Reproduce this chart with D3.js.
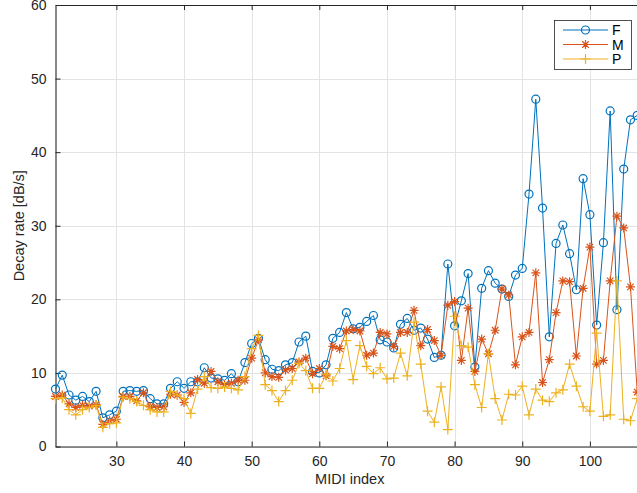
<!DOCTYPE html>
<html><head><meta charset="utf-8">
<script src="https://cdn.jsdelivr.net/npm/d3@7/dist/d3.min.js"></script>
<style>
html,body{margin:0;padding:0;background:#fff;}
svg{display:block;font-family:"Liberation Sans",Arial,Helvetica,sans-serif;}
</style></head>
<body>
<svg id="chart" width="637" height="493"></svg>
<script>
const midi = [21,22,23,24,25,26,27,28,29,30,31,32,33,34,35,36,37,38,39,40,41,42,43,44,45,46,47,48,49,50,51,52,53,54,55,56,57,58,59,60,61,62,63,64,65,66,67,68,69,70,71,72,73,74,75,76,77,78,79,80,81,82,83,84,85,86,87,88,89,90,91,92,93,94,95,96,97,98,99,100,101,102,103,104,105,106,107,108];
const seriesF = [7.8,9.7,7.0,6.3,6.8,6.1,7.5,3.9,4.3,4.8,
  7.5,7.6,7.5,7.6,6.5,5.8,5.8,7.9,8.8,7.9,
  8.8,8.8,10.7,9.3,9.2,9.0,9.9,8.8,11.4,14.0,
  14.7,11.8,10.5,10.3,11.1,11.4,14.2,15.0,10.2,10.0,
  11.1,14.7,15.5,18.2,16.0,16.2,17.0,17.8,14.5,14.2,
  13.4,16.6,17.4,15.8,16.1,14.6,12.1,12.4,24.8,16.4,
  19.8,23.5,10.8,21.5,23.9,22.2,21.4,20.4,23.3,24.2,
  34.3,47.2,32.4,14.9,27.6,30.1,26.2,21.3,36.4,31.5,
  16.5,27.7,45.6,18.6,37.7,44.4,45.0,46.0];
const seriesM = [6.8,7.0,5.8,5.3,5.6,5.5,5.7,3.0,3.5,3.7,
  6.8,6.8,6.2,7.3,5.4,5.3,5.4,7.1,7.0,6.0,
  7.3,9.1,8.6,10.2,8.8,8.4,8.6,9.0,9.0,12.0,
  14.5,10.0,9.5,9.4,10.4,10.6,11.5,12.0,9.9,10.6,
  9.6,13.6,13.3,15.7,15.9,15.7,12.4,12.7,15.5,15.3,
  13.6,15.5,15.5,18.5,13.7,15.9,14.4,12.4,19.2,19.7,
  11.7,18.8,10.2,14.6,12.6,15.8,21.4,20.6,11.1,14.9,
  15.5,23.6,8.7,11.8,18.2,22.5,22.4,12.3,21.5,27.1,
  11.2,11.7,22.5,31.3,29.7,21.7,7.4,9.0];
const seriesP = [6.5,6.6,5.0,4.3,5.0,5.3,5.6,2.6,3.1,3.2,
  6.7,6.5,6.1,5.6,5.0,4.7,4.7,7.5,7.0,6.5,
  4.5,7.8,9.5,8.0,7.9,8.1,7.9,7.7,9.5,13.3,
  15.1,8.4,7.6,6.1,7.6,9.0,11.3,10.3,7.9,7.9,
  9.8,8.9,10.6,14.4,9.1,13.7,10.9,9.9,10.7,9.2,
  9.3,12.7,9.6,16.9,11.2,4.8,3.3,8.1,2.3,17.7,
  13.7,13.5,8.4,5.3,12.6,6.5,3.6,7.1,7.0,8.2,
  4.3,7.8,6.3,6.1,7.3,7.7,11.2,8.2,5.4,4.8,
  15.4,4.1,4.3,22.5,3.7,3.5,6.5,10.0];
const seriesNames = ["F","M","P"];
const seriesColors = ["#0072BD","#D95319","#EDB120"];
const markerKinds = ["circle","asterisk","plus"];
const xTicks = [30,40,50,60,70,80,90,100];
const yTicks = [0,10,20,30,40,50,60];
const xLabel = "MIDI index";
const yLabel = "Decay rate [dB/s]";

const svg = d3.select("#chart");
const L = 55.5, R = 644, T = 5, B = 446.5;
const x = d3.scaleLinear().domain([21,108]).range([L,R]);
const y = d3.scaleLinear().domain([0,60]).range([B,T]);
const axisColor = "#262626";

// grid
const grid = svg.append("g");
grid.selectAll("line.gx").data(xTicks).enter().append("line")
  .attr("x1",d=>Math.round(x(d))+0.5).attr("x2",d=>Math.round(x(d))+0.5)
  .attr("y1",T).attr("y2",B).attr("stroke","#e3e3e3").attr("stroke-width",1);
grid.selectAll("line.gy").data(yTicks).enter().append("line")
  .attr("y1",d=>Math.round(y(d))+0.5).attr("y2",d=>Math.round(y(d))+0.5)
  .attr("x1",L).attr("x2",R).attr("stroke","#e3e3e3").attr("stroke-width",1);

// axes
const xAxisB = d3.axisBottom(x).tickValues(xTicks).tickSizeInner(-5).tickSizeOuter(0).tickPadding(10);
const xAxisT = d3.axisTop(x).tickValues(xTicks).tickSizeInner(-5).tickSizeOuter(0).tickFormat("");
const yAxisL = d3.axisLeft(y).tickValues(yTicks).tickSizeInner(-5).tickSizeOuter(0).tickPadding(9);
const yAxisR = d3.axisRight(y).tickValues(yTicks).tickSizeInner(-5).tickSizeOuter(0).tickFormat("");

function styleAxis(g){
  g.select(".domain").attr("stroke",axisColor).attr("stroke-width",1.1);
  g.selectAll(".tick line").attr("stroke",axisColor).attr("stroke-width",1);
  g.selectAll(".tick text").attr("fill",axisColor).attr("font-size","14px")
    .attr("font-family","'Liberation Sans',Arial,Helvetica,sans-serif");
}
svg.append("g").attr("transform",`translate(0,${B})`).call(xAxisB).call(styleAxis);
svg.append("g").attr("transform",`translate(0,${T})`).call(xAxisT).call(styleAxis);
svg.append("g").attr("transform",`translate(${L},0)`).call(yAxisL).call(styleAxis);
svg.append("g").attr("transform",`translate(${R},0)`).call(yAxisR).call(styleAxis);

// labels
svg.append("text").attr("x",(L+R)/2).attr("y",484).attr("text-anchor","middle")
  .attr("font-size","14.5px").attr("fill",axisColor).text(xLabel);
svg.append("text").attr("transform",`translate(24,${(T+B)/2}) rotate(-90)`)
  .attr("text-anchor","middle").attr("font-size","14.5px").attr("fill",axisColor).text(yLabel);

function markerPath(kind, s){
  if(kind==="asterisk"){
    const d = s*0.72;
    return `M${-s},0L${s},0M0,${-s}L0,${s}M${-d},${-d}L${d},${d}M${-d},${d}L${d},${-d}`;
  }
  if(kind==="plus") return `M${-s},0L${s},0M0,${-s}L0,${s}`;
  return null;
}

const clip = svg.append("defs").append("clipPath").attr("id","plotclip")
  .append("rect").attr("x",L-6).attr("y",T-6).attr("width",R-L+12).attr("height",B-T+12);

const data = [seriesF, seriesM, seriesP];
const line = d3.line().x((d,i)=>x(midi[i])).y(d=>y(d));
const plot = svg.append("g");
data.forEach((vals,k)=>{
  const g = plot.append("g");
  g.append("path").datum(vals).attr("d",line).attr("fill","none")
    .attr("stroke",seriesColors[k]).attr("stroke-width",1);
  const kind = markerKinds[k];
  if(kind==="circle"){
    g.selectAll("circle").data(vals).enter().append("circle")
      .attr("cx",(d,i)=>x(midi[i])).attr("cy",d=>y(d)).attr("r",4)
      .attr("fill","none").attr("stroke",seriesColors[k]).attr("stroke-width",1.2);
  } else {
    const s = kind==="plus"?5:4.5;
    g.selectAll("path.m").data(vals).enter().append("path").attr("class","m")
      .attr("transform",(d,i)=>`translate(${x(midi[i])},${y(d)})`)
      .attr("d",markerPath(kind,s)).attr("fill","none")
      .attr("stroke",seriesColors[k]).attr("stroke-width",1.2);
  }
});

// legend
const lg = svg.append("g");
lg.append("rect").attr("x",554.5).attr("y",20.5).attr("width",77).attr("height",49)
  .attr("fill","#fff").attr("stroke",axisColor).attr("stroke-width",0.8);
seriesNames.forEach((n,k)=>{
  const yy = 30 + k*14.5;
  lg.append("line").attr("x1",563).attr("x2",608).attr("y1",yy).attr("y2",yy)
    .attr("stroke",seriesColors[k]).attr("stroke-width",1);
  if(markerKinds[k]==="circle"){
    lg.append("circle").attr("cx",585.5).attr("cy",yy).attr("r",4)
      .attr("fill","none").attr("stroke",seriesColors[k]).attr("stroke-width",1.2);
  } else {
    const s = markerKinds[k]==="plus"?5:4.5;
    lg.append("path").attr("transform",`translate(585.5,${yy})`)
      .attr("d",markerPath(markerKinds[k],s)).attr("fill","none")
      .attr("stroke",seriesColors[k]).attr("stroke-width",1.2);
  }
  lg.append("text").attr("x",612).attr("y",yy+5).attr("font-size","14px")
    .attr("fill","#000").text(n);
});
</script>
</body></html>
